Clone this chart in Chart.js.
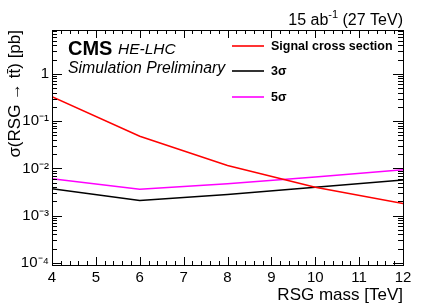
<!DOCTYPE html>
<html>
<head>
<meta charset="utf-8">
<script src="https://cdn.jsdelivr.net/npm/chart.js@4/dist/chart.umd.min.js"></script>
<style>
  body { margin: 0; background: #fff; }
  canvas { display: block; }
</style>
</head>
<body>
<canvas id="rsgChart" width="425" height="305"></canvas>
<script>
// --- Données ---
const masses = [4, 6, 8, 10, 12];
const signalXsec = [0.33, 0.048, 0.0115, 0.0040, 0.0018];
const limit3sigma = [0.0037, 0.0021, 0.0028, 0.0040, 0.0057];
const limit5sigma = [0.0060, 0.0036, 0.0047, 0.0066, 0.0093];

const xTicks = [4, 5, 6, 7, 8, 9, 10, 11, 12];
const yTicks = [1e-4, 1e-3, 1e-2, 1e-1, 1];
const yTickLabels = ['10\u207B\u2074', '10\u207B\u00B3', '10\u207B\u00B2', '10\u207B\u00B9', '1'];

const FONT = '"Liberation Sans", Arial, sans-serif';

function toPoints(values) {
    return masses.map((m, i) => ({ x: m, y: values[i] }));
}

// Cadre + graduations vers l'intérieur, style ROOT
const framePlugin = {
    id: 'frame',
    afterDraw(chart) {
        const { ctx, chartArea: a, scales } = chart;
        const xs = scales.x, ys = scales.y;
        ctx.save();
        ctx.strokeStyle = '#000';
        ctx.lineWidth = 1;
        ctx.strokeRect(a.left + 0.5, a.top + 0.5, a.right - a.left, a.bottom - a.top);

        ctx.beginPath();
        for (let i = 0; i <= 40; i++) {
            const v = xs.min + i * 0.2;
            const px = Math.round(xs.getPixelForValue(v)) + 0.5;
            const len = (i % 5 === 0) ? 8 : 4;
            ctx.moveTo(px, a.bottom); ctx.lineTo(px, a.bottom - len);
            ctx.moveTo(px, a.top); ctx.lineTo(px, a.top + len);
        }
        for (let e = -5; e <= 1; e++) {
            for (let k = 1; k <= 9; k++) {
                const v = k * Math.pow(10, e);
                if (v < ys.min || v > ys.max) continue;
                const py = Math.round(ys.getPixelForValue(v)) + 0.5;
                const len = (k === 1) ? 10 : 5;
                ctx.moveTo(a.left, py); ctx.lineTo(a.left + len, py);
                ctx.moveTo(a.right, py); ctx.lineTo(a.right - len, py);
            }
        }
        ctx.stroke();
        ctx.restore();
    }
};

// Textes : CMS, luminosité, titres d'axes, légende
const labelsPlugin = {
    id: 'labels',
    afterDraw(chart) {
        const { ctx, chartArea: a } = chart;
        ctx.save();
        ctx.fillStyle = '#000';
        ctx.textBaseline = 'alphabetic';

        // CMS HE-LHC
        ctx.textAlign = 'left';
        ctx.font = 'bold 20px ' + FONT;
        ctx.fillText('CMS', 68, 55);
        ctx.font = 'italic 15.5px ' + FONT;
        ctx.fillText('HE-LHC', 118, 54);
        ctx.font = 'italic 15.8px ' + FONT;
        ctx.fillText('Simulation Preliminary', 68, 73);

        // 15 ab-1 (27 TeV), aligné à droite
        const big = '16px ' + FONT, small = '11px ' + FONT;
        ctx.font = big;
        const w1 = ctx.measureText('15 ab').width;
        const w3 = ctx.measureText(' (27 TeV)').width;
        ctx.font = small;
        const w2 = ctx.measureText('-1').width;
        let x0 = a.right - (w1 + w2 + w3);
        ctx.font = big;
        ctx.fillText('15 ab', x0, 25);
        ctx.font = small;
        ctx.fillText('-1', x0 + w1, 18);
        ctx.font = big;
        ctx.fillText(' (27 TeV)', x0 + w1 + w2, 25);

        // Titre axe X
        ctx.textAlign = 'right';
        ctx.font = '17px ' + FONT;
        ctx.fillText('RSG mass [TeV]', a.right, 300);

        // Titre axe Y (tourné)
        ctx.save();
        ctx.translate(20, a.top);
        ctx.rotate(-Math.PI / 2);
        ctx.textAlign = 'right';
        ctx.fillText('\u03C3(RSG \u2192 tt\u0304) [pb]', 0, 0);
        ctx.restore();

        // Légende
        const rows = [46, 71, 97];
        chart.data.datasets.forEach((ds, i) => {
            const y = rows[i];
            ctx.strokeStyle = ds.borderColor;
            ctx.lineWidth = 1.6;
            ctx.beginPath();
            ctx.moveTo(232, y); ctx.lineTo(264, y);
            ctx.stroke();
            ctx.textAlign = 'left';
            ctx.textBaseline = 'middle';
            ctx.font = 'bold 12.5px ' + FONT;
            ctx.fillText(ds.label, 271, y + 1);
        });
        ctx.restore();
    }
};

const lineStyle = { borderWidth: 1.5, pointRadius: 0, tension: 0, fill: false };

new Chart(document.getElementById('rsgChart'), {
    type: 'line',
    data: {
        datasets: [
            { label: 'Signal cross section', data: toPoints(signalXsec), borderColor: '#ff0000', ...lineStyle },
            { label: '3\u03C3', data: toPoints(limit3sigma), borderColor: '#000000', ...lineStyle },
            { label: '5\u03C3', data: toPoints(limit5sigma), borderColor: '#ff00ff', ...lineStyle }
        ]
    },
    options: {
        responsive: false,
        animation: false,
        layout: { padding: { top: 30, right: 22, left: 0, bottom: 0 } },
        plugins: { legend: { display: false }, tooltip: { enabled: false } },
        scales: {
            x: {
                type: 'linear',
                min: 4,
                max: 12,
                afterBuildTicks: (s) => { s.ticks = xTicks.map(v => ({ value: v })); },
                afterFit: (s) => { s.height = 40; },
                grid: { display: false, drawTicks: false },
                border: { display: false },
                ticks: { color: '#000', font: { family: FONT, size: 15 }, padding: 4, maxRotation: 0 }
            },
            y: {
                type: 'logarithmic',
                min: 9e-5,
                max: 8.5,
                afterBuildTicks: (s) => { s.ticks = yTicks.map(v => ({ value: v })); },
                afterFit: (s) => { s.width = 52; },
                grid: { display: false, drawTicks: false },
                border: { display: false },
                ticks: {
                    color: '#000',
                    font: { family: FONT, size: 15 },
                    padding: 3,
                    callback: (v) => {
                        const i = yTicks.indexOf(v);
                        return i >= 0 ? yTickLabels[i] : '';
                    }
                }
            }
        }
    },
    plugins: [framePlugin, labelsPlugin]
});
</script>
</body>
</html>
